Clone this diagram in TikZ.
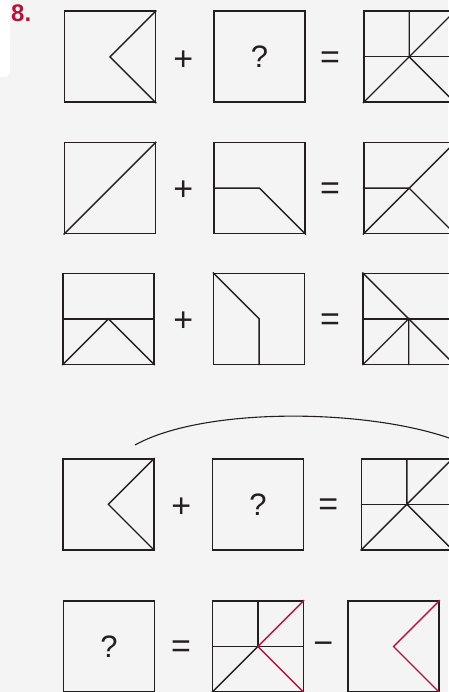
\documentclass[tikz,border=0pt]{standalone}
\usepackage{fontspec}
\setmainfont{Liberation Sans}
\usetikzlibrary{positioning}
\definecolor{quizred}{RGB}{181,18,62}
\definecolor{pagegray}{RGB}{244,244,244}
\definecolor{inkgray}{RGB}{35,31,32}

\begin{document}
\begin{tikzpicture}[x=1pt,y=-1pt,
  node distance=57pt,
  tile/.style={draw=inkgray, line width=1.6pt, minimum size=91pt, inner sep=0pt, text=inkgray, font=\fontsize{31}{31}\selectfont},
  sign/.style={inner sep=0pt, text=inkgray, font=\fontsize{34}{34}\selectfont},
  part/.style={draw=inkgray, line width=1.4pt},
  redpart/.style={draw=quizred, line width=1.4pt}]
  % page and side tab
  \fill[pagegray] (0,0) rectangle (448,692);
  \useasboundingbox (0,0) rectangle (448,692);
  \fill[white, rounded corners=6pt] (-10,-10) rectangle (10,77);
  \node[text=quizred, font=\bfseries\fontsize{24}{24}\selectfont] (tasknum) at (21.2,13.3) {8.};

  % row 1
  \node[tile] (r1a) at (110,56.8) {};
  \node[tile, right=of r1a] (r1b) {?};
  \node[tile, right=of r1b] (r1c) {};
  \node[sign] (plus1) at (183.3,60.8) {+};
  \node[sign] (eq1) at (330,60.5) {=};
  \draw[part] (r1a.north east) -- (r1a.center) -- (r1a.south east);
  \draw[part] (r1c.north) -- (r1c.center) -- (r1c.north east);
  \draw[part] (r1c.west) -- (r1c.east);
  \draw[part] (r1c.south west) -- (r1c.center) -- (r1c.south east);

  % row 2
  \node[tile] (r2a) at (110,188.2) {};
  \node[tile, right=of r2a] (r2b) {};
  \node[tile, right=of r2b] (r2c) {};
  \node[sign] (plus2) at (183.3,191) {+};
  \node[sign] (eq2) at (330,191) {=};
  \draw[part] (r2a.south west) -- (r2a.north east);
  \draw[part] (r2b.west) -- (r2b.center) -- (r2b.south east);
  \draw[part] (r2c.west) -- (r2c.center) -- (r2c.south east);
  \draw[part] (r2c.south west) -- (r2c.north east);

  % row 3
  \node[tile] (r3a) at (108.5,318.8) {};
  \node[tile, right=58pt of r3a] (r3b) {};
  \node[tile, right=of r3b] (r3c) {};
  \node[sign] (plus3) at (183.3,322) {+};
  \node[sign] (eq3) at (330,322) {=};
  \draw[part] (r3a.west) -- (r3a.east);
  \draw[part] (r3a.south west) -- (r3a.center) -- (r3a.south east);
  \draw[part] (r3b.north west) -- (r3b.center) -- (r3b.south);
  \draw[part] (r3c.north west) -- (r3c.south east);
  \draw[part] (r3c.west) -- (r3c.east);
  \draw[part] (r3c.south west) -- (r3c.center) -- (r3c.south);

  % bridge arc
  \coordinate (arcL) at (135,445);
  \coordinate (arcR) at (460,442);
  \draw[draw=inkgray, line width=1.1pt] (arcL) .. controls (205,406) and (375,408) .. (arcR);

  % row 4
  \node[tile] (r4a) at (108.3,504.3) {};
  \node[tile, right=of r4a] (r4b) {?};
  \node[tile, right=56.4pt of r4b] (r4c) {};
  \node[sign] (plus4) at (181.3,507.5) {+};
  \node[sign] (eq4) at (328.3,507.5) {=};
  \draw[part] (r4a.north east) -- (r4a.center) -- (r4a.south east);
  \draw[part] (r4c.north) -- (r4c.center) -- (r4c.north east);
  \draw[part] (r4c.west) -- (r4c.east);
  \draw[part] (r4c.south west) -- (r4c.center) -- (r4c.south east);

  % row 5
  \node[tile] (r5a) at (109,646.5) {?};
  \node[tile, right=56.3pt of r5a] (r5b) {};
  \node[tile, right=43pt of r5b] (r5c) {};
  \node[sign] (eq5) at (181,649) {=};
  \node[sign] (minus5) at (323.3,648) {−};
  \draw[part] (r5b.north) -- (r5b.center);
  \draw[part] (r5b.west) -- (r5b.east);
  \draw[part] (r5b.south west) -- (r5b.center);
  \draw[redpart] (r5b.north east) -- (r5b.center) -- (r5b.south east);
  \draw[redpart] (r5c.north east) -- (r5c.center) -- (r5c.south east);
\end{tikzpicture}
\end{document}
